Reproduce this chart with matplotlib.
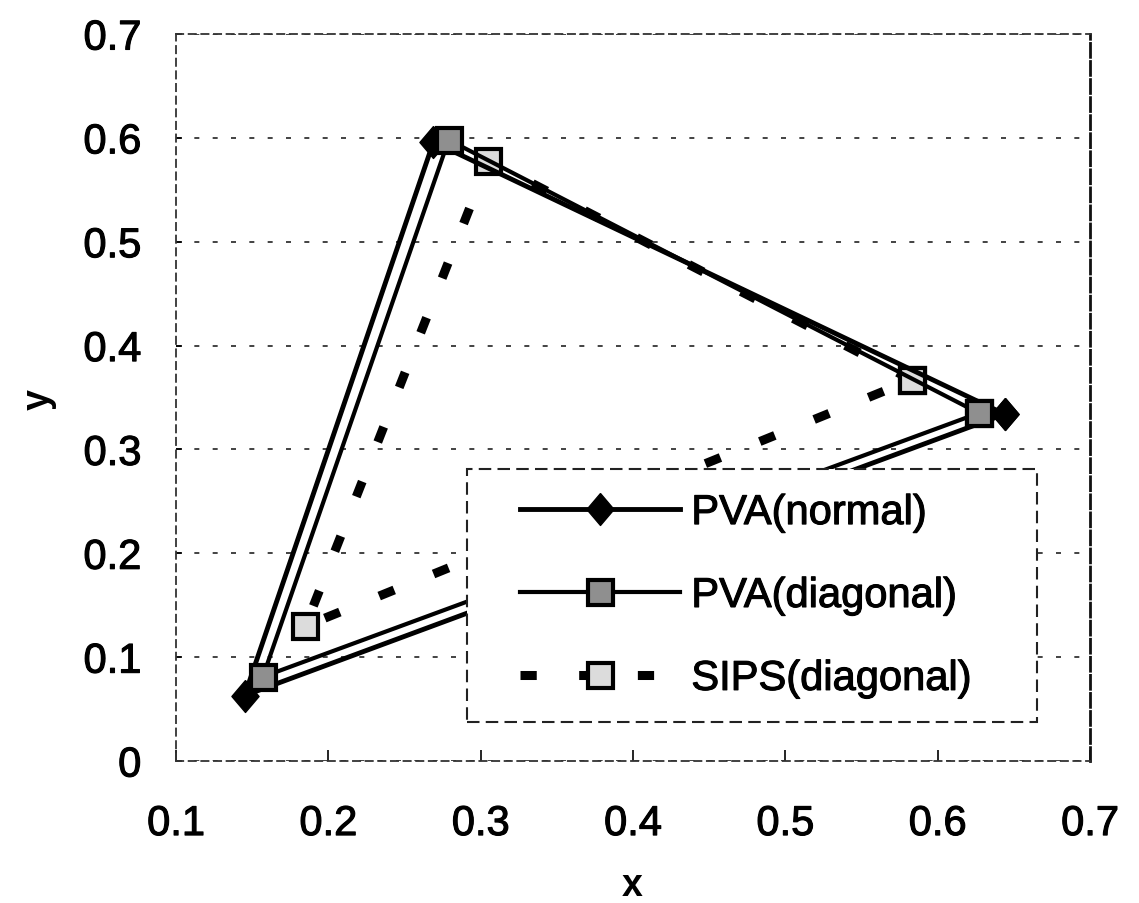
import matplotlib
matplotlib.use("Agg")
import matplotlib.pyplot as plt
import matplotlib.patheffects as pe
from matplotlib.patches import Rectangle
import numpy as np

plt.rcParams['font.family'] = ['Liberation Sans', 'DejaVu Sans']

# Chromaticity coordinates (R, G, B) of each primary triangle
pva_normal_x = [0.644, 0.269, 0.145]
pva_normal_y = [0.334, 0.596, 0.063]
pva_diag_x = [0.627, 0.279, 0.157]
pva_diag_y = [0.335, 0.598, 0.081]
sips_diag_x = [0.583, 0.305, 0.185]
sips_diag_y = [0.367, 0.578, 0.130]
labels = ["PVA(normal)", "PVA(diagonal)", "SIPS(diagonal)"]
xticks = [0.1, 0.2, 0.3, 0.4, 0.5, 0.6, 0.7]
yticks = [0, 0.1, 0.2, 0.3, 0.4, 0.5, 0.6, 0.7]

def closed(v):
    return np.append(v, v[0])

diamond = [(0, 1), (0.85, 0), (0, -1), (-0.85, 0), (0, 1)]
thick = [pe.withStroke(linewidth=0.8, foreground='black')]

fig = plt.figure(figsize=(11.39, 9.04), dpi=100)
ax = fig.add_axes([176 / 1139, 1 - 762 / 904, 914 / 1139, 727 / 904])

ax.plot(closed(sips_diag_x), closed(sips_diag_y), color='black', lw=6.5,
        dashes=(1.8, 4.7), marker='s', markersize=18, markerfacecolor='#dcdcdc',
        markeredgecolor='black', markeredgewidth=3, label=labels[2], zorder=3)
ax.plot(closed(pva_normal_x), closed(pva_normal_y), color='black', lw=3.5,
        marker=diamond, markersize=23, markerfacecolor='black',
        markeredgecolor='black', markeredgewidth=1, label=labels[0], zorder=4)
ax.plot(closed(pva_diag_x), closed(pva_diag_y), color='black', lw=3,
        marker='s', markersize=18, markerfacecolor='#8f8f8f',
        markeredgecolor='black', markeredgewidth=3, label=labels[1], zorder=5)

ax.set_xlim(0.1, 0.7)
ax.set_ylim(0, 0.7)
ax.set_xticks(xticks)
ax.set_yticks(yticks)
ax.set_xticklabels([f'{v:g}' for v in xticks])
ax.set_yticklabels([f'{v:g}' for v in yticks])
ax.tick_params(axis='x', labelsize=30, direction='in', length=8, width=1.2, pad=31)
ax.tick_params(axis='y', labelsize=30, direction='in', length=4, width=1.2, pad=25)
for lab in ax.get_xticklabels() + ax.get_yticklabels():
    lab.set_path_effects(thick)

ax.yaxis.grid(True, color='#222222', lw=1.2, dashes=(3, 8))
ax.set_axisbelow(True)
for s in ['top', 'bottom', 'left']:
    ax.spines[s].set_linestyle((0, (4, 3)))
    ax.spines[s].set_color('#333333')
    ax.spines[s].set_linewidth(1.3)
ax.spines['right'].set_linestyle((0, (5, 1.5)))
ax.spines['right'].set_color('#111111')
ax.spines['right'].set_linewidth(2)

ax.set_xlabel('x', fontsize=27, fontweight='bold', va='center')
ax.set_ylabel('y', fontsize=27, fontweight='bold', va='center')
ax.xaxis.set_label_coords(0.499, -0.171)
ax.yaxis.set_label_coords(-0.150, 0.498)

box = Rectangle((0.318, 0.054), 0.624, 0.347, transform=ax.transAxes,
                facecolor='white', edgecolor='#222222', lw=1.5,
                linestyle=(0, (6, 3)), zorder=10)
ax.add_patch(box)

h, l = ax.get_legend_handles_labels()
order = [1, 2, 0]
leg = ax.legend([h[i] for i in order], [l[i] for i in order],
                loc='center left', bbox_to_anchor=(0.376, 0.227),
                fontsize=30, handlelength=3.86, handletextpad=0.26,
                labelspacing=1.03, borderpad=0, borderaxespad=0,
                frameon=False, numpoints=1)
leg.set_zorder(11)
for t in leg.get_texts():
    t.set_path_effects(thick)

fig.savefig('out.png', dpi=100)
